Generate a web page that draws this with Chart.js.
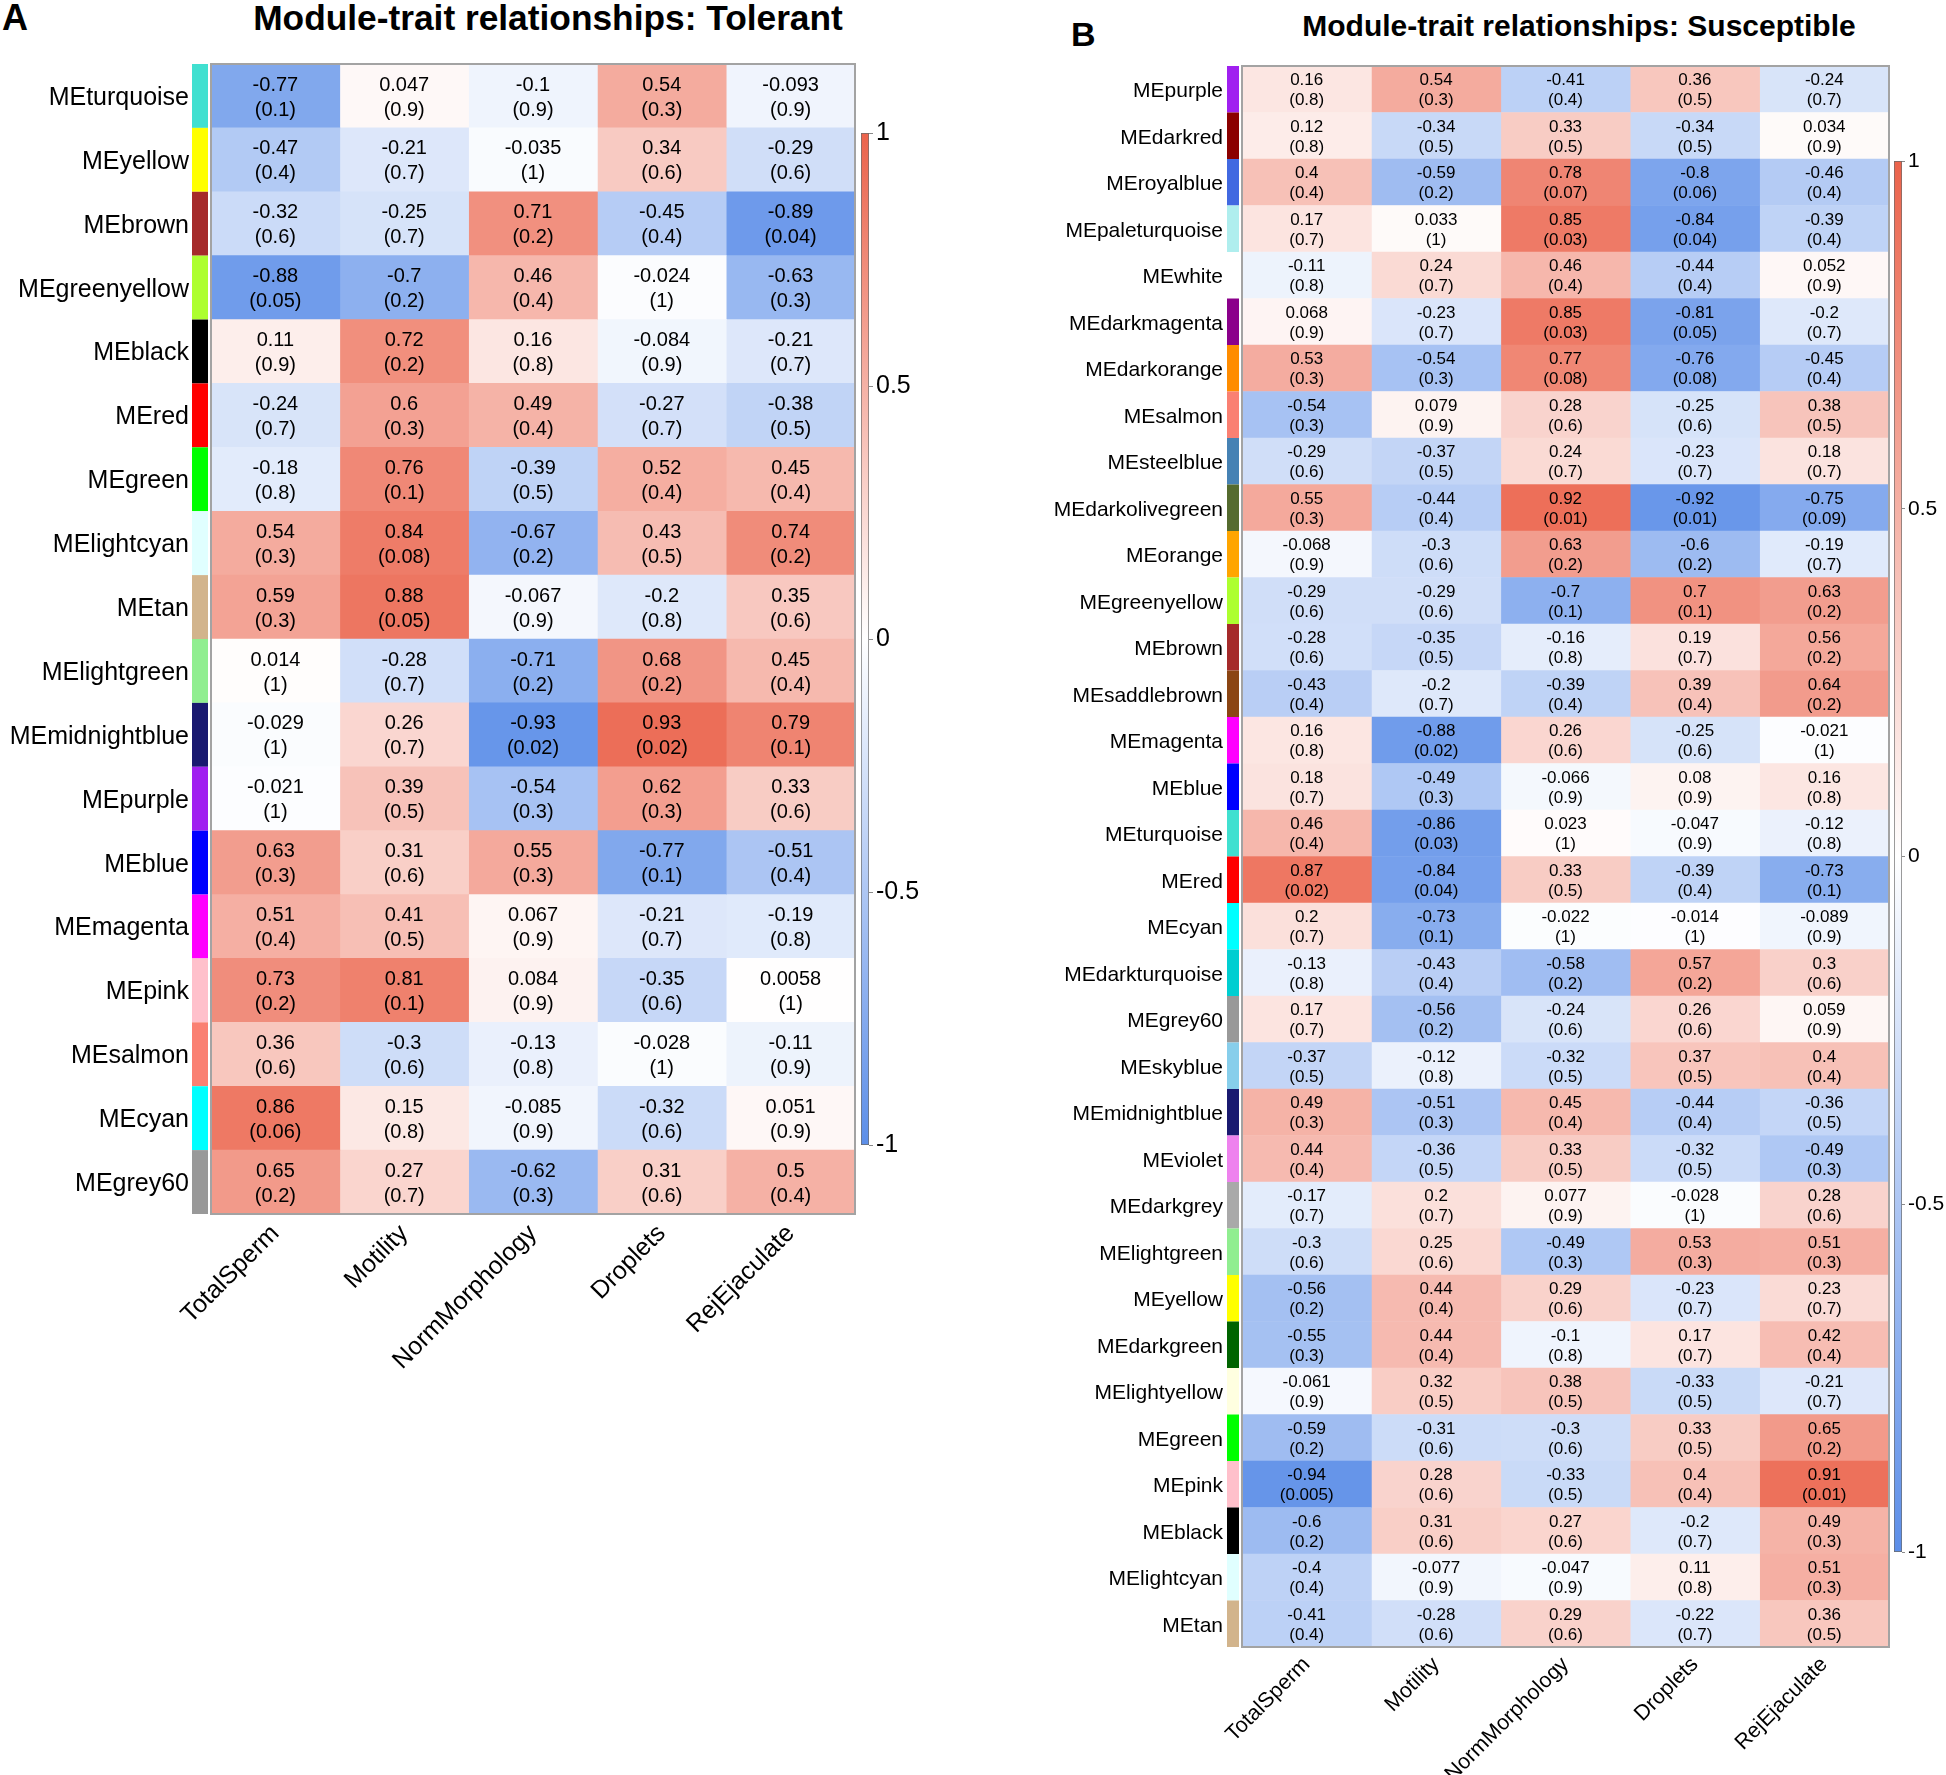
<!DOCTYPE html>
<html><head><meta charset="utf-8">
<script src="https://cdn.jsdelivr.net/npm/chart.js@4.4.1/dist/chart.umd.min.js"></script>
<style>
html,body{margin:0;padding:0;background:#fff;}
body{width:1946px;height:1775px;position:relative;overflow:hidden;font-family:"Liberation Sans",Arial,sans-serif;}
canvas{position:absolute;}
.t{position:absolute;font-weight:bold;color:#000;white-space:nowrap;line-height:1;}
</style></head><body>
<div class="t" style="left:2px;top:0px;font-size:36px;">A</div>
<div class="t" style="left:548px;top:0px;font-size:35.3px;transform:translateX(-50%);">Module-trait relationships: Tolerant</div>
<div class="t" style="left:1071px;top:17px;font-size:34px;">B</div>
<div class="t" style="left:1579px;top:11px;font-size:30px;transform:translateX(-50%);">Module-trait relationships: Susceptible</div>
<canvas id="heatA" width="900" height="1400" style="left:0;top:0;"></canvas>
<canvas id="cbA" width="110" height="1080" style="left:840px;top:100px;"></canvas>
<canvas id="heatB" width="930" height="1775" style="left:1000px;top:0;"></canvas>
<canvas id="cbB" width="66" height="1460" style="left:1880px;top:130px;"></canvas>
<script>
const traits = ["TotalSperm", "Motility", "NormMorphology", "Droplets", "RejEjaculate"];
const cbTicks = [-1, -0.5, 0, 0.5, 1];

const modulesA = ["MEturquoise","MEyellow","MEbrown","MEgreenyellow","MEblack","MEred","MEgreen","MElightcyan","MEtan","MElightgreen","MEmidnightblue","MEpurple","MEblue","MEmagenta","MEpink","MEsalmon","MEcyan","MEgrey60"];
const moduleColorsA = ["#40E0D0","#FFFF00","#A52A2A","#ADFF2F","#000000","#FF0000","#00FF00","#E0FFFF","#D2B48C","#90EE90","#191970","#A020F0","#0000FF","#FF00FF","#FFC0CB","#FA8072","#00FFFF","#999999"];
const corrA = [
  [-0.77, 0.047, -0.1, 0.54, -0.093],
  [-0.47, -0.21, -0.035, 0.34, -0.29],
  [-0.32, -0.25, 0.71, -0.45, -0.89],
  [-0.88, -0.7, 0.46, -0.024, -0.63],
  [0.11, 0.72, 0.16, -0.084, -0.21],
  [-0.24, 0.6, 0.49, -0.27, -0.38],
  [-0.18, 0.76, -0.39, 0.52, 0.45],
  [0.54, 0.84, -0.67, 0.43, 0.74],
  [0.59, 0.88, -0.067, -0.2, 0.35],
  [0.014, -0.28, -0.71, 0.68, 0.45],
  [-0.029, 0.26, -0.93, 0.93, 0.79],
  [-0.021, 0.39, -0.54, 0.62, 0.33],
  [0.63, 0.31, 0.55, -0.77, -0.51],
  [0.51, 0.41, 0.067, -0.21, -0.19],
  [0.73, 0.81, 0.084, -0.35, 0.0058],
  [0.36, -0.3, -0.13, -0.028, -0.11],
  [0.86, 0.15, -0.085, -0.32, 0.051],
  [0.65, 0.27, -0.62, 0.31, 0.5]
];
const pA = [
  [0.1, 0.9, 0.9, 0.3, 0.9],
  [0.4, 0.7, 1, 0.6, 0.6],
  [0.6, 0.7, 0.2, 0.4, 0.04],
  [0.05, 0.2, 0.4, 1, 0.3],
  [0.9, 0.2, 0.8, 0.9, 0.7],
  [0.7, 0.3, 0.4, 0.7, 0.5],
  [0.8, 0.1, 0.5, 0.4, 0.4],
  [0.3, 0.08, 0.2, 0.5, 0.2],
  [0.3, 0.05, 0.9, 0.8, 0.6],
  [1, 0.7, 0.2, 0.2, 0.4],
  [1, 0.7, 0.02, 0.02, 0.1],
  [1, 0.5, 0.3, 0.3, 0.6],
  [0.3, 0.6, 0.3, 0.1, 0.4],
  [0.4, 0.5, 0.9, 0.7, 0.8],
  [0.2, 0.1, 0.9, 0.6, 1],
  [0.6, 0.6, 0.8, 1, 0.9],
  [0.06, 0.8, 0.9, 0.6, 0.9],
  [0.2, 0.7, 0.3, 0.6, 0.4]
];

const modulesB = ["MEpurple","MEdarkred","MEroyalblue","MEpaleturquoise","MEwhite","MEdarkmagenta","MEdarkorange","MEsalmon","MEsteelblue","MEdarkolivegreen","MEorange","MEgreenyellow","MEbrown","MEsaddlebrown","MEmagenta","MEblue","MEturquoise","MEred","MEcyan","MEdarkturquoise","MEgrey60","MEskyblue","MEmidnightblue","MEviolet","MEdarkgrey","MElightgreen","MEyellow","MEdarkgreen","MElightyellow","MEgreen","MEpink","MEblack","MElightcyan","MEtan"];
const moduleColorsB = ["#A020F0","#8B0000","#4169E1","#AFEEEE","#FFFFFF","#8B008B","#FF8C00","#FA8072","#4682B4","#556B2F","#FFA500","#ADFF2F","#A52A2A","#8B4513","#FF00FF","#0000FF","#40E0D0","#FF0000","#00FFFF","#00CED1","#999999","#87CEEB","#191970","#EE82EE","#A9A9A9","#90EE90","#FFFF00","#006400","#FFFFE0","#00FF00","#FFC0CB","#000000","#E0FFFF","#D2B48C"];
const corrB = [
  [0.16, 0.54, -0.41, 0.36, -0.24],
  [0.12, -0.34, 0.33, -0.34, 0.034],
  [0.4, -0.59, 0.78, -0.8, -0.46],
  [0.17, 0.033, 0.85, -0.84, -0.39],
  [-0.11, 0.24, 0.46, -0.44, 0.052],
  [0.068, -0.23, 0.85, -0.81, -0.2],
  [0.53, -0.54, 0.77, -0.76, -0.45],
  [-0.54, 0.079, 0.28, -0.25, 0.38],
  [-0.29, -0.37, 0.24, -0.23, 0.18],
  [0.55, -0.44, 0.92, -0.92, -0.75],
  [-0.068, -0.3, 0.63, -0.6, -0.19],
  [-0.29, -0.29, -0.7, 0.7, 0.63],
  [-0.28, -0.35, -0.16, 0.19, 0.56],
  [-0.43, -0.2, -0.39, 0.39, 0.64],
  [0.16, -0.88, 0.26, -0.25, -0.021],
  [0.18, -0.49, -0.066, 0.08, 0.16],
  [0.46, -0.86, 0.023, -0.047, -0.12],
  [0.87, -0.84, 0.33, -0.39, -0.73],
  [0.2, -0.73, -0.022, -0.014, -0.089],
  [-0.13, -0.43, -0.58, 0.57, 0.3],
  [0.17, -0.56, -0.24, 0.26, 0.059],
  [-0.37, -0.12, -0.32, 0.37, 0.4],
  [0.49, -0.51, 0.45, -0.44, -0.36],
  [0.44, -0.36, 0.33, -0.32, -0.49],
  [-0.17, 0.2, 0.077, -0.028, 0.28],
  [-0.3, 0.25, -0.49, 0.53, 0.51],
  [-0.56, 0.44, 0.29, -0.23, 0.23],
  [-0.55, 0.44, -0.1, 0.17, 0.42],
  [-0.061, 0.32, 0.38, -0.33, -0.21],
  [-0.59, -0.31, -0.3, 0.33, 0.65],
  [-0.94, 0.28, -0.33, 0.4, 0.91],
  [-0.6, 0.31, 0.27, -0.2, 0.49],
  [-0.4, -0.077, -0.047, 0.11, 0.51],
  [-0.41, -0.28, 0.29, -0.22, 0.36]
];
const pB = [
  [0.8, 0.3, 0.4, 0.5, 0.7],
  [0.8, 0.5, 0.5, 0.5, 0.9],
  [0.4, 0.2, 0.07, 0.06, 0.4],
  [0.7, 1, 0.03, 0.04, 0.4],
  [0.8, 0.7, 0.4, 0.4, 0.9],
  [0.9, 0.7, 0.03, 0.05, 0.7],
  [0.3, 0.3, 0.08, 0.08, 0.4],
  [0.3, 0.9, 0.6, 0.6, 0.5],
  [0.6, 0.5, 0.7, 0.7, 0.7],
  [0.3, 0.4, 0.01, 0.01, 0.09],
  [0.9, 0.6, 0.2, 0.2, 0.7],
  [0.6, 0.6, 0.1, 0.1, 0.2],
  [0.6, 0.5, 0.8, 0.7, 0.2],
  [0.4, 0.7, 0.4, 0.4, 0.2],
  [0.8, 0.02, 0.6, 0.6, 1],
  [0.7, 0.3, 0.9, 0.9, 0.8],
  [0.4, 0.03, 1, 0.9, 0.8],
  [0.02, 0.04, 0.5, 0.4, 0.1],
  [0.7, 0.1, 1, 1, 0.9],
  [0.8, 0.4, 0.2, 0.2, 0.6],
  [0.7, 0.2, 0.6, 0.6, 0.9],
  [0.5, 0.8, 0.5, 0.5, 0.4],
  [0.3, 0.3, 0.4, 0.4, 0.5],
  [0.4, 0.5, 0.5, 0.5, 0.3],
  [0.7, 0.7, 0.9, 1, 0.6],
  [0.6, 0.6, 0.3, 0.3, 0.3],
  [0.2, 0.4, 0.6, 0.7, 0.7],
  [0.3, 0.4, 0.8, 0.7, 0.4],
  [0.9, 0.5, 0.5, 0.5, 0.7],
  [0.2, 0.6, 0.6, 0.5, 0.2],
  [0.005, 0.6, 0.5, 0.4, 0.01],
  [0.2, 0.6, 0.6, 0.7, 0.3],
  [0.4, 0.9, 0.9, 0.8, 0.3],
  [0.4, 0.6, 0.6, 0.7, 0.5]
];

const FAMILY = '"Liberation Sans", Arial, Helvetica, sans-serif';
Chart.defaults.font.family = FAMILY;
const RED_END = [235, 99, 75];
const BLUE_END = [92, 142, 232];

function corrColor(v) {
  const end = v >= 0 ? RED_END : BLUE_END;
  const t = Math.min(1, Math.abs(v));
  const c = end.map(e => Math.round(255 + (e - 255) * t));
  return 'rgb(' + c.join(',') + ')';
}

const heatPlugin = {
  id: 'heatText',
  afterDatasetsDraw(chart, args, o) {
    const {ctx, chartArea} = chart;
    ctx.save();
    // module colour strip, placed on the rows of the category axis
    const meta0 = chart.getDatasetMeta(0);
    meta0.data.forEach((el, i) => {
      const p = el.getProps(['y', 'height'], true);
      ctx.fillStyle = o.colors[i];
      ctx.fillRect(chartArea.left - o.stripOffset - o.stripWidth, p.y - p.height / 2, o.stripWidth, p.height);
    });
    // cell texts
    ctx.fillStyle = '#000';
    ctx.textAlign = 'center';
    ctx.textBaseline = 'middle';
    ctx.font = o.fontSize + 'px ' + FAMILY;
    chart.data.datasets.forEach((ds, j) => {
      chart.getDatasetMeta(j).data.forEach((el, i) => {
        const c = el.getCenterPoint(true);
        ctx.fillText(String(o.corr[i][j]), c.x, c.y - o.gap + o.shift);
        ctx.fillText('(' + String(o.pv[i][j]) + ')', c.x, c.y + o.gap + o.shift);
      });
    });
    // frame
    ctx.strokeStyle = '#a3a3a3';
    ctx.lineWidth = 2;
    ctx.strokeRect(chartArea.left, chartArea.top, chartArea.right - chartArea.left, chartArea.bottom - chartArea.top);
    ctx.restore();
  }
};

function makeHeat(id, modules, colors, corr, pv, o) {
  const datasets = traits.map((t, j) => ({
    label: t,
    data: modules.map(() => 1),
    backgroundColor: modules.map((m, i) => corrColor(corr[i][j])),
    borderWidth: 0,
    barPercentage: 1,
    categoryPercentage: 1
  }));
  return new Chart(document.getElementById(id), {
    type: 'bar',
    data: {labels: modules, datasets},
    options: {
      indexAxis: 'y',
      responsive: false,
      animation: false,
      events: [],
      layout: {padding: {left: 0, right: o.padRight, top: o.padTop, bottom: 0}},
      plugins: {
        legend: {display: false},
        tooltip: {enabled: false},
        heatText: {colors, corr, pv, fontSize: o.cellFont, gap: o.gap, shift: o.shift, stripWidth: o.stripWidth, stripOffset: o.stripOffset}
      },
      scales: {
        x: {stacked: true, min: 0, max: traits.length, display: false},
        xl: {
          type: 'category', labels: traits, position: 'bottom', offset: true,
          grid: {display: false, drawTicks: false}, border: {display: false},
          ticks: {autoSkip: false, minRotation: 45, maxRotation: 45, padding: o.xPad, color: '#000', font: {size: o.xFont}},
          afterFit(s) { s.height = o.xHeight; }
        },
        y: {
          stacked: true,
          grid: {display: false, drawTicks: false}, border: {display: false},
          ticks: {autoSkip: false, padding: o.yPad, labelOffset: o.yShift, color: '#000', font: {size: o.yFont}},
          afterFit(s) { s.width = o.yWidth; }
        }
      }
    },
    plugins: [heatPlugin]
  });
}

function makeColorbar(id, o) {
  return new Chart(document.getElementById(id), {
    type: 'bar',
    data: {
      labels: ['r'],
      datasets: [{
        data: [[cbTicks[0], cbTicks[cbTicks.length - 1]]],
        backgroundColor(ctx) {
          const chart = ctx.chart;
          const ys = chart.scales.y;
          if (!ys || !chart.chartArea) return '#fff';
          const g = chart.ctx.createLinearGradient(0, ys.getPixelForValue(-1), 0, ys.getPixelForValue(1));
          g.addColorStop(0, corrColor(-1));
          g.addColorStop(0.5, corrColor(0));
          g.addColorStop(1, corrColor(1));
          return g;
        },
        borderColor: '#6a6a6a',
        borderWidth: 1,
        borderSkipped: false,
        barPercentage: 1,
        categoryPercentage: 1
      }]
    },
    options: {
      responsive: false,
      animation: false,
      events: [],
      layout: {padding: {left: o.padLeft, right: 0, top: o.padTop, bottom: o.padBottom}},
      plugins: {legend: {display: false}, tooltip: {enabled: false}},
      scales: {
        x: {display: false},
        y: {
          position: 'right', min: -1, max: 1,
          afterBuildTicks(s) { s.ticks = cbTicks.map(v => ({value: v})); },
          grid: {display: true, drawOnChartArea: false, drawTicks: true, tickLength: o.tickLen, color: '#8a8a8a', lineWidth: 1},
          border: {display: false},
          ticks: {padding: o.tickPad, color: '#000', font: {size: o.font}, callback: v => String(v)},
          afterFit(s) { s.width = o.axisWidth; }
        }
      }
    }
  });
}

makeHeat('heatA', modulesA, moduleColorsA, corrA, pA, {
  padRight: 45, padTop: 64, xHeight: 186, yWidth: 211, yPad: 22, yShift: 2,
  xFont: 25, yFont: 25, cellFont: 20, gap: 12.5, shift: 1.6, xPad: 5,
  stripWidth: 16, stripOffset: 3
});
makeHeat('heatB', modulesB, moduleColorsB, corrB, pB, {
  padRight: 41, padTop: 66, xHeight: 128, yWidth: 242, yPad: 19, yShift: 2,
  xFont: 21.5, yFont: 21, cellFont: 17, gap: 10, shift: 1.3, xPad: 5,
  stripWidth: 12, stripOffset: 3
});
makeColorbar('cbA', {padLeft: 21, padTop: 33, padBottom: 35, axisWidth: 81, tickLen: 4, tickPad: 3, font: 25});
makeColorbar('cbB', {padLeft: 14, padTop: 31, padBottom: 38, axisWidth: 44, tickLen: 3, tickPad: 3, font: 21});
</script>
</body></html>
